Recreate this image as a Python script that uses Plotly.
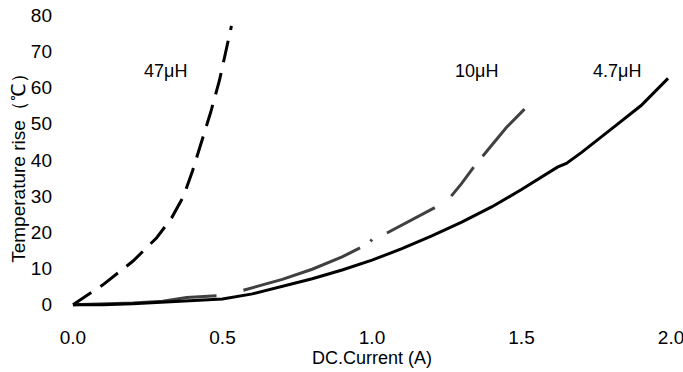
import plotly.graph_objects as go

# 47uH series (dashed)
x_47 = [0.0, 0.1, 0.2, 0.28, 0.33, 0.37, 0.40, 0.43, 0.46, 0.49, 0.51, 0.53]
y_47 = [0.0, 5.5, 12.0, 18.5, 24.0, 30.0, 37.0, 45.0, 53.0, 62.0, 70.0, 77.0]

# 10uH series (grey, broken)
x_10 = [0.0, 0.1, 0.2, 0.3, 0.38, 0.48, None, 0.57, 0.6, 0.7, 0.8, 0.9, 0.96, None,
        0.995, 1.0, None, 1.05, 1.1, 1.15, 1.21, None, 1.265, 1.3, 1.34, None,
        1.37, 1.4, 1.45, 1.51]
y_10 = [0.0, 0.2, 0.5, 1.0, 2.0, 2.5, None, 4.0, 4.7, 7.0, 9.8, 13.2, 15.7, None,
        17.5, 18.0, None, 19.8, 22.0, 24.2, 26.8, None, 30.0, 33.5, 38.0, None,
        41.0, 44.0, 49.0, 54.0]

# 4.7uH series (solid)
x_47b = [0.0, 0.1, 0.2, 0.3, 0.4, 0.5, 0.6, 0.7, 0.8, 0.9, 1.0, 1.1, 1.2, 1.3,
         1.4, 1.5, 1.6, 1.62, 1.65, 1.7, 1.8, 1.9, 1.99]
y_47b = [0.0, 0.0, 0.3, 0.7, 1.0, 1.6, 3.0, 5.0, 7.2, 9.6, 12.3, 15.5, 19.0, 22.8,
         27.0, 31.8, 37.0, 38.0, 39.0, 42.0, 48.5, 55.0, 62.5]

labels = ["47μH", "10μH", "4.7μH"]
label_x = [0.31, 1.35, 1.82]
label_y = [64.5, 64.5, 64.5]

x_ticks = [0.0, 0.5, 1.0, 1.5, 2.0]
x_ticktext = ["0.0", "0.5", "1.0", "1.5", "2.0"]
y_ticks = [0, 10, 20, 30, 40, 50, 60, 70, 80]

fig = go.Figure()
fig.add_trace(go.Scatter(x=x_47, y=y_47, mode="lines",
                         line=dict(color="black", width=3, dash="22px,11px"),
                         showlegend=False, connectgaps=False, hoverinfo="skip"))
fig.add_trace(go.Scatter(x=x_10, y=y_10, mode="lines",
                         line=dict(color="#404040", width=3),
                         showlegend=False, connectgaps=False, hoverinfo="skip"))
fig.add_trace(go.Scatter(x=x_47b, y=y_47b, mode="lines",
                         line=dict(color="black", width=3),
                         showlegend=False, hoverinfo="skip"))

for t, lx, ly in zip(labels, label_x, label_y):
    fig.add_annotation(x=lx, y=ly, text=t, showarrow=False,
                       font=dict(size=18, color="black"))

fig.update_layout(
    width=683, height=372,
    margin=dict(l=67, r=6, t=15, b=60),
    paper_bgcolor="white", plot_bgcolor="white",
    font=dict(family="Liberation Sans, Arial, sans-serif", size=19, color="black"),
)
fig.update_xaxes(range=[-0.02, 2.02], tickvals=x_ticks, ticktext=x_ticktext,
                 showgrid=False, zeroline=False, showline=False, automargin=False,
                 ticks="", ticklabelstandoff=12, ticklabeloverflow="allow",
                 title=dict(text="DC.Current (A)", font=dict(size=18), standoff=0))
fig.update_yaxes(range=[-2, 80], tickvals=y_ticks,
                 showgrid=False, zeroline=False, showline=False, automargin=False,
                 ticks="", ticklabelstandoff=14, ticklabeloverflow="allow",
                 title=dict(text="Temperature rise（℃）", font=dict(size=19), standoff=0))

fig.write_html("out.html", config={"displayModeBar": False},
               post_script="document.body.style.margin='0px';document.body.style.overflow='hidden';")
